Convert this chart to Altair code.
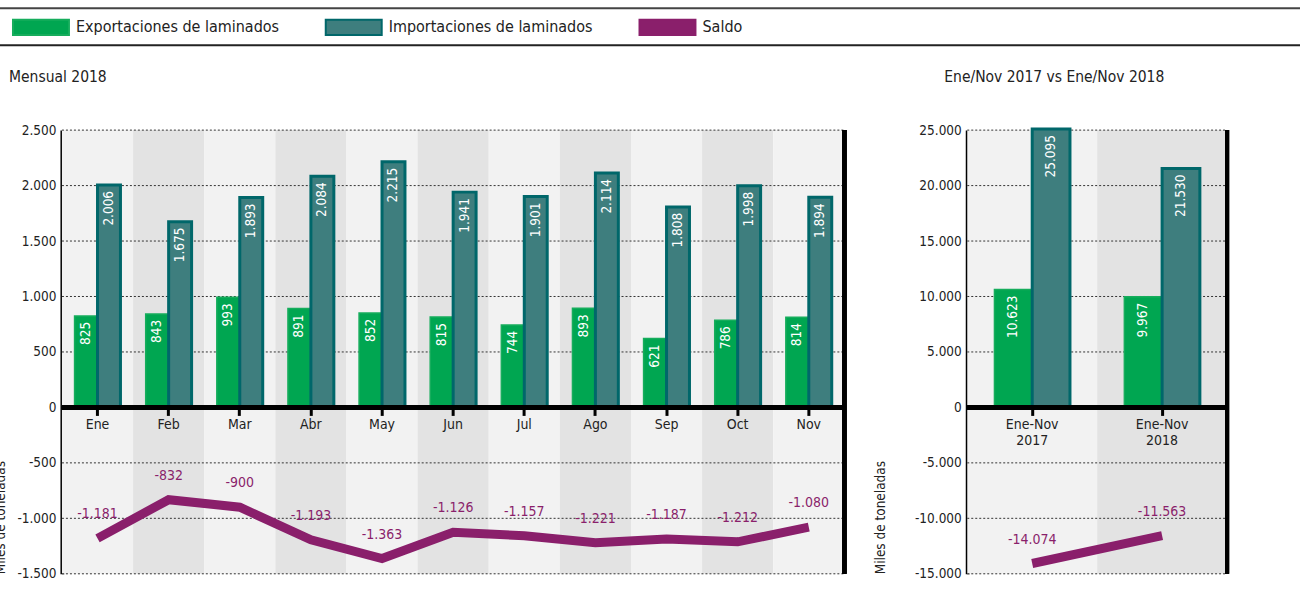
import altair as alt
import pandas as pd

# ---------------- data ----------------
meses = ["Ene", "Feb", "Mar", "Abr", "May", "Jun", "Jul", "Ago", "Sep", "Oct", "Nov"]
exportaciones = [825, 843, 993, 891, 852, 815, 744, 893, 621, 786, 814]
importaciones = [2006, 1675, 1893, 2084, 2215, 1941, 1901, 2114, 1808, 1998, 1894]
saldo = [-1181, -832, -900, -1193, -1363, -1126, -1157, -1221, -1187, -1212, -1080]

periodos = ["Ene-Nov 2017", "Ene-Nov 2018"]
export_acum = [10623, 9967]
import_acum = [25095, 21530]
saldo_acum = [-14074, -11563]

ticks_mes = [-1500, -1000, -500, 0, 500, 1000, 1500, 2000, 2500]
ticks_acum = [-15000, -10000, -5000, 0, 5000, 10000, 15000, 20000, 25000]

series = ["Exportaciones de laminados", "Importaciones de laminados", "Saldo"]

# ---------------- style ----------------
FONT = "DejaVu Sans Condensed, Roboto, sans-serif"
VERDE = "#00a651"
VERDE_BORDE = "#16ad5c"
TEAL = "#3e7e7e"
TEAL_BORDE = "#00676a"
MORADO = "#8a1f6b"
FONDO_A = "#f2f2f2"
FONDO_B = "#e3e3e3"
TXT = "#222222"
H = 444


def fmt(f):
    return f"(({f}) < 0 ? '-' : '') + replace(format(abs({f}), ','), ',', '.')"


fill_scale = alt.Scale(domain=series, range=[VERDE, TEAL, MORADO])
stroke_scale = alt.Scale(domain=series, range=[VERDE_BORDE, TEAL_BORDE, MORADO])

legend = alt.Legend(
    title=None, orient="none", direction="horizontal", legendX=-50, legendY=-10,
    symbolType="M-1,-0.27L1,-0.27L1,0.27L-1,0.27Z", symbolSize=3136, symbolStrokeWidth=2,
    symbolOpacity=1,
    labelFont=FONT, labelFontSize=16, labelColor=TXT, labelOffset=6, labelLimit=0,
    columnPadding=42,
)


def panel(cats, exp, imp, sal, ticks, W, po, bar_sw, title, title_dx, y_title_x):
    n = len(cats)
    fondo = pd.DataFrame({"cat": cats, "par": [i % 2 for i in range(n)]})
    barras = pd.DataFrame({
        "cat": cats * 2,
        "serie": [series[0]] * n + [series[1]] * n,
        "valor": exp + imp,
    })
    linea = pd.DataFrame({"cat": cats, "serie": [series[2]] * n, "valor": sal})
    grid = pd.DataFrame({"v": [t for t in ticks if t != 0]})

    zero_from_bottom = H * (0 - ticks[0]) / (ticks[-1] - ticks[0])
    x_axis = alt.Axis(
        title=None, orient="bottom", offset=-zero_from_bottom,
        domain=False, ticks=True, tickColor="black", tickWidth=3, tickSize=8,
        labelAngle=0, labelFont=FONT, labelFontSize=14, labelColor=TXT,
        labelPadding=2, labelExpr="split(datum.label, ' ')", labelLineHeight=16,
    )
    x = alt.X("cat:N", sort=cats, scale=alt.Scale(paddingInner=0, paddingOuter=0), axis=x_axis)
    y_scale = alt.Scale(domain=[ticks[0], ticks[-1]], nice=False, zero=False)
    y_axis = alt.Axis(
        values=ticks, labelExpr=fmt("datum.value"), grid=False, ticks=False,
        domain=True, domainColor="black", domainWidth=4,
        labelFont=FONT, labelFontSize=13.5, labelColor=TXT, labelPadding=6,
        title="Miles de toneladas", titleFont=FONT, titleFontSize=13.5,
        titleFontWeight="normal", titleColor=TXT, titleAnchor="start",
        titleX=y_title_x,
    )
    xoff = alt.XOffset("serie:N", sort=series[:2], scale=alt.Scale(paddingInner=0, paddingOuter=po))

    bg = alt.Chart(fondo).mark_rect().encode(
        x=x,
        y=alt.value(0), y2=alt.value(H),
        fill=alt.condition("datum.par == 1", alt.value(FONDO_B), alt.value(FONDO_A)),
    )
    gl = alt.Chart(grid).mark_rule(color="#333", strokeDash=[2, 2], strokeWidth=1).encode(
        y=alt.Y("v:Q", scale=y_scale, axis=y_axis),
        x=alt.value(0), x2=alt.value(W),
    )
    bars = alt.Chart(barras).mark_bar().encode(
        x=x,
        xOffset=xoff,
        y=alt.Y("valor:Q", scale=y_scale, axis=y_axis),
        fill=alt.Fill("serie:N", scale=fill_scale, legend=None),
        stroke=alt.Stroke("serie:N", scale=stroke_scale, legend=None),
        strokeWidth=alt.StrokeWidth("serie:N", scale=alt.Scale(domain=series[:2], range=bar_sw), legend=None),
    )
    bar_txt = alt.Chart(barras).transform_calculate(lab=fmt("datum.valor")).mark_text(
        angle=270, align="right", baseline="middle", dx=-6, color="white",
        font=FONT, fontSize=13.5,
    ).encode(
        x=x,
        xOffset=xoff,
        y=alt.Y("valor:Q", scale=y_scale, axis=y_axis),
        text="lab:N",
    )
    zero = alt.Chart(grid).mark_rule(color="black", strokeWidth=4).encode(
        y=alt.datum(0, scale=y_scale)
    )
    right = alt.Chart(grid).mark_rule(color="black", strokeWidth=4).encode(
        x=alt.value(W), y=alt.value(0), y2=alt.value(H)
    )
    ln = alt.Chart(linea).mark_line(strokeWidth=9, strokeCap="butt").encode(
        x=x,
        y=alt.Y("valor:Q", scale=y_scale, axis=y_axis),
        stroke=alt.Stroke("serie:N", scale=stroke_scale, legend=None),
    )
    ln_txt = alt.Chart(linea).transform_calculate(lab=fmt("datum.valor")).mark_text(
        dy=-24, color=MORADO, font=FONT, fontSize=14, baseline="middle",
    ).encode(
        x=x,
        y=alt.Y("valor:Q", scale=y_scale, axis=y_axis),
        text="lab:N",
    )
    return alt.layer(bg, gl, bars, bar_txt, zero, right, ln, ln_txt).properties(
        width=W, height=H,
        title=alt.TitleParams(title, anchor="start", frame="group", dx=title_dx, offset=38,
                              font=FONT, fontSize=15.5, fontWeight="normal", color=TXT),
    )


# ---------------- header (rules + legend) ----------------
leyenda_df = pd.DataFrame({"serie": series})
header = alt.layer(
    alt.Chart(leyenda_df).mark_square(opacity=0, size=1, filled=True).encode(
        x=alt.value(0), y=alt.value(18),
        fill=alt.Fill("serie:N", scale=fill_scale, legend=legend),
        stroke=alt.Stroke("serie:N", scale=stroke_scale, legend=legend),
    ),
    alt.Chart(pd.DataFrame({"v": [0]})).mark_rule(color="#444", strokeWidth=2).encode(
        x=alt.value(-80), x2=alt.value(1239), y=alt.value(0)),
    alt.Chart(pd.DataFrame({"v": [0]})).mark_rule(color="#222", strokeWidth=2).encode(
        x=alt.value(-80), x2=alt.value(1239), y=alt.value(37)),
).properties(width=783, height=37)

left = panel(meses, exportaciones, importaciones, saldo, ticks_mes, 783, 0.55, [1.5, 3],
             "Mensual 2018", -53, -54)
right = panel(periodos, export_acum, import_acum, saldo_acum, ticks_acum, 260, 0.72, [1.5, 4],
              "Ene/Nov 2017 vs Ene/Nov 2018", -23, -80)

panels = alt.hconcat(left, right, spacing=27).resolve_scale(
    x="independent", y="independent", xOffset="independent")

chart = alt.vconcat(header, panels, spacing=23).properties(
    padding={"left": -19, "top": -2, "right": 0, "bottom": 0},
    background="white",
).resolve_legend(fill="independent", stroke="independent").configure_view(stroke=None)

chart.save("out.html", embed_options={"renderer": "svg", "actions": False})
